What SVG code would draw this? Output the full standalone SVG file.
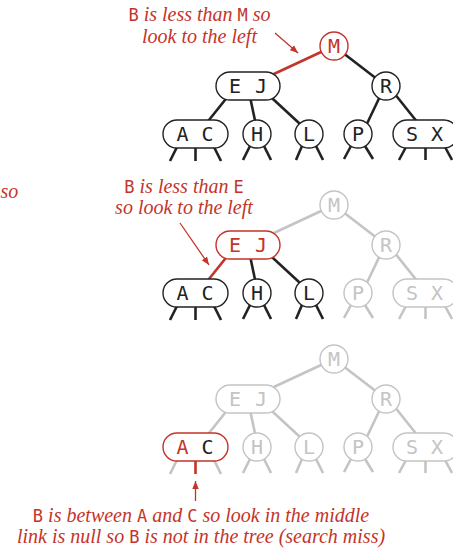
<svg xmlns="http://www.w3.org/2000/svg" width="453" height="551" viewBox="0 0 453 551">
<defs>
<style>
.n{fill:#fff;stroke:#222;stroke-width:1.4}
.n.g{stroke:#c4c4c4}
.n.r{stroke:#c4342a}
.l{font-family:"DejaVu Sans Mono",monospace;font-size:20px;text-anchor:middle;fill:#222}
.l.g{fill:#c4c4c4}
.l.r{fill:#c4342a}
.e{stroke:#222;stroke-width:2.6;fill:none}
.e.g{stroke:#c4c4c4}
.e.r{stroke:#c4342a}
.a{font-family:"Liberation Serif",serif;font-style:italic;font-size:20px;fill:#c4342a}
.m{font-family:"DejaVu Sans Mono",monospace;font-style:normal;font-size:17px}
.ar{stroke:#c4342a;stroke-width:1.3;fill:none}
</style>
<marker id="ah" viewBox="0 0 10 10" refX="10" refY="5" markerWidth="8" markerHeight="8" orient="auto" markerUnits="userSpaceOnUse">
<path d="M0,1 L10,5 L0,9 z" fill="#c4342a"/>
</marker>
</defs>

<!-- Panel 1 -->
<g id="connectors-1">
<line class="e r" x1="334" y1="46" x2="248" y2="86"/>
<line class="e" x1="334" y1="46" x2="386" y2="86"/>
<line class="e" x1="231.4" y1="92" x2="202.6" y2="128"/>
<line class="e" x1="249" y1="92" x2="257" y2="130"/>
<line class="e" x1="264.3" y1="91" x2="308.7" y2="132"/>
<line class="e" x1="384" y1="88" x2="363" y2="132"/>
<line class="e" x1="390" y1="88" x2="422" y2="128"/>
<line class="e" x1="177" y1="147" x2="170" y2="161"/>
<line class="e" x1="195.5" y1="148" x2="195.5" y2="161"/>
<line class="e" x1="214" y1="147" x2="221" y2="161"/>
<line class="e" x1="250" y1="146" x2="243" y2="160"/>
<line class="e" x1="264" y1="146" x2="271" y2="160"/>
<line class="e" x1="302" y1="146" x2="296" y2="160"/>
<line class="e" x1="316" y1="146" x2="323" y2="160"/>
<line class="e" x1="351" y1="146" x2="344" y2="159"/>
<line class="e" x1="365" y1="146" x2="373" y2="159"/>
<line class="e" x1="406" y1="147" x2="399" y2="160"/>
<line class="e" x1="425.5" y1="148" x2="425.5" y2="160"/>
<line class="e" x1="445" y1="147" x2="452" y2="160"/>
<line class="ar" x1="275" y1="33" x2="298" y2="53" marker-end="url(#ah)"/>
</g>
<g id="p1-M"><circle class="n r" cx="334" cy="46" r="14"/><text class="l r" x="334" y="53">M</text></g>
<g id="p1-EJ"><rect class="n" x="216" y="72" width="64" height="28" rx="14"/><text class="l" x="235" y="93">E</text><text class="l" x="261" y="93">J</text></g>
<g id="p1-R"><circle class="n" cx="386" cy="86" r="14"/><text class="l" x="386" y="93">R</text></g>
<g id="p1-AC"><rect class="n" x="163" y="120" width="65" height="28" rx="14"/><text class="l" x="182.5" y="141">A</text><text class="l" x="207.5" y="141">C</text></g>
<g id="p1-H"><circle class="n" cx="257" cy="134" r="14"/><text class="l" x="257" y="141">H</text></g>
<g id="p1-L"><circle class="n" cx="309" cy="134" r="14"/><text class="l" x="309" y="141">L</text></g>
<g id="p1-P"><circle class="n" cx="358" cy="134" r="14"/><text class="l" x="358" y="141">P</text></g>
<g id="p1-SX"><rect class="n" x="393" y="120" width="65" height="28" rx="14"/><text class="l" x="412" y="141">S</text><text class="l" x="437" y="141">X</text></g>
<text class="a" x="199.5" y="21" text-anchor="middle"><tspan class="m">B</tspan> is less than <tspan class="m">M</tspan> so</text>
<text class="a" x="199.5" y="43" text-anchor="middle">look to the left</text>

<text class="a" x="0.5" y="198">so</text>

<!-- Panel 2 -->
<g transform="translate(0,159)">
<g id="connectors-2">
<line class="e g" x1="334" y1="46" x2="248" y2="86"/>
<line class="e g" x1="334" y1="46" x2="386" y2="86"/>
<line class="e r" x1="231.4" y1="92" x2="202.6" y2="128"/>
<line class="e" x1="249" y1="92" x2="257" y2="130"/>
<line class="e" x1="264.3" y1="91" x2="308.7" y2="132"/>
<line class="e g" x1="384" y1="88" x2="363" y2="132"/>
<line class="e g" x1="390" y1="88" x2="422" y2="128"/>
<line class="e" x1="177" y1="147" x2="170" y2="161"/>
<line class="e" x1="195.5" y1="148" x2="195.5" y2="161"/>
<line class="e" x1="214" y1="147" x2="221" y2="161"/>
<line class="e" x1="250" y1="146" x2="243" y2="160"/>
<line class="e" x1="264" y1="146" x2="271" y2="160"/>
<line class="e" x1="302" y1="146" x2="296" y2="160"/>
<line class="e" x1="316" y1="146" x2="323" y2="160"/>
<line class="e g" x1="351" y1="146" x2="344" y2="159"/>
<line class="e g" x1="365" y1="146" x2="373" y2="159"/>
<line class="e g" x1="406" y1="147" x2="399" y2="160"/>
<line class="e g" x1="425.5" y1="148" x2="425.5" y2="160"/>
<line class="e g" x1="445" y1="147" x2="452" y2="160"/>
<line class="ar" x1="180" y1="64" x2="209" y2="106" marker-end="url(#ah)"/>
</g>
<g id="p2-M"><circle class="n g" cx="334" cy="46" r="14"/><text class="l g" x="334" y="53">M</text></g>
<g id="p2-EJ"><rect class="n r" x="216" y="72" width="64" height="28" rx="14"/><text class="l r" x="235" y="93">E</text><text class="l r" x="261" y="93">J</text></g>
<g id="p2-R"><circle class="n g" cx="386" cy="86" r="14"/><text class="l g" x="386" y="93">R</text></g>
<g id="p2-AC"><rect class="n" x="163" y="120" width="65" height="28" rx="14"/><text class="l" x="182.5" y="141">A</text><text class="l" x="207.5" y="141">C</text></g>
<g id="p2-H"><circle class="n" cx="257" cy="134" r="14"/><text class="l" x="257" y="141">H</text></g>
<g id="p2-L"><circle class="n" cx="309" cy="134" r="14"/><text class="l" x="309" y="141">L</text></g>
<g id="p2-P"><circle class="n g" cx="358" cy="134" r="14"/><text class="l g" x="358" y="141">P</text></g>
<g id="p2-SX"><rect class="n g" x="393" y="120" width="65" height="28" rx="14"/><text class="l g" x="412" y="141">S</text><text class="l g" x="437" y="141">X</text></g>
<text class="a" x="184" y="33.5" text-anchor="middle"><tspan class="m">B</tspan> is less than <tspan class="m">E</tspan></text>
<text class="a" x="184" y="54.5" text-anchor="middle">so look to the left</text>
</g>

<!-- Panel 3 -->
<g transform="translate(0,313)">
<g id="connectors-3">
<line class="e g" x1="334" y1="46" x2="248" y2="86"/>
<line class="e g" x1="334" y1="46" x2="386" y2="86"/>
<line class="e g" x1="231.4" y1="92" x2="202.6" y2="128"/>
<line class="e g" x1="249" y1="92" x2="257" y2="130"/>
<line class="e g" x1="264.3" y1="91" x2="308.7" y2="132"/>
<line class="e g" x1="384" y1="88" x2="363" y2="132"/>
<line class="e g" x1="390" y1="88" x2="422" y2="128"/>
<line class="e g" x1="177" y1="147" x2="170" y2="161"/>
<line class="e r" x1="195.5" y1="148" x2="195.5" y2="161"/>
<line class="e g" x1="214" y1="147" x2="221" y2="161"/>
<line class="e g" x1="250" y1="146" x2="243" y2="160"/>
<line class="e g" x1="264" y1="146" x2="271" y2="160"/>
<line class="e g" x1="302" y1="146" x2="296" y2="160"/>
<line class="e g" x1="316" y1="146" x2="323" y2="160"/>
<line class="e g" x1="351" y1="146" x2="344" y2="159"/>
<line class="e g" x1="365" y1="146" x2="373" y2="159"/>
<line class="e g" x1="406" y1="147" x2="399" y2="160"/>
<line class="e g" x1="425.5" y1="148" x2="425.5" y2="160"/>
<line class="e g" x1="445" y1="147" x2="452" y2="160"/>
<line class="ar" x1="195.5" y1="188" x2="195.5" y2="168" marker-end="url(#ah)"/>
</g>
<g id="p3-M"><circle class="n g" cx="334" cy="46" r="14"/><text class="l g" x="334" y="53">M</text></g>
<g id="p3-EJ"><rect class="n g" x="216" y="72" width="64" height="28" rx="14"/><text class="l g" x="235" y="93">E</text><text class="l g" x="261" y="93">J</text></g>
<g id="p3-R"><circle class="n g" cx="386" cy="86" r="14"/><text class="l g" x="386" y="93">R</text></g>
<g id="p3-AC"><rect class="n r" x="163" y="120" width="65" height="28" rx="14"/><text class="l r" x="182.5" y="141">A</text><text class="l" x="207.5" y="141">C</text></g>
<g id="p3-H"><circle class="n g" cx="257" cy="134" r="14"/><text class="l g" x="257" y="141">H</text></g>
<g id="p3-L"><circle class="n g" cx="309" cy="134" r="14"/><text class="l g" x="309" y="141">L</text></g>
<g id="p3-P"><circle class="n g" cx="358" cy="134" r="14"/><text class="l g" x="358" y="141">P</text></g>
<g id="p3-SX"><rect class="n g" x="393" y="120" width="65" height="28" rx="14"/><text class="l g" x="412" y="141">S</text><text class="l g" x="437" y="141">X</text></g>
<text class="a" x="201" y="208.7" text-anchor="middle"><tspan class="m">B</tspan> is between <tspan class="m">A</tspan> and <tspan class="m">C</tspan> so look in the middle</text>
<text class="a" x="201" y="230.3" text-anchor="middle">link is null so <tspan class="m">B</tspan> is not in the tree (search miss)</text>
</g>
</svg>
